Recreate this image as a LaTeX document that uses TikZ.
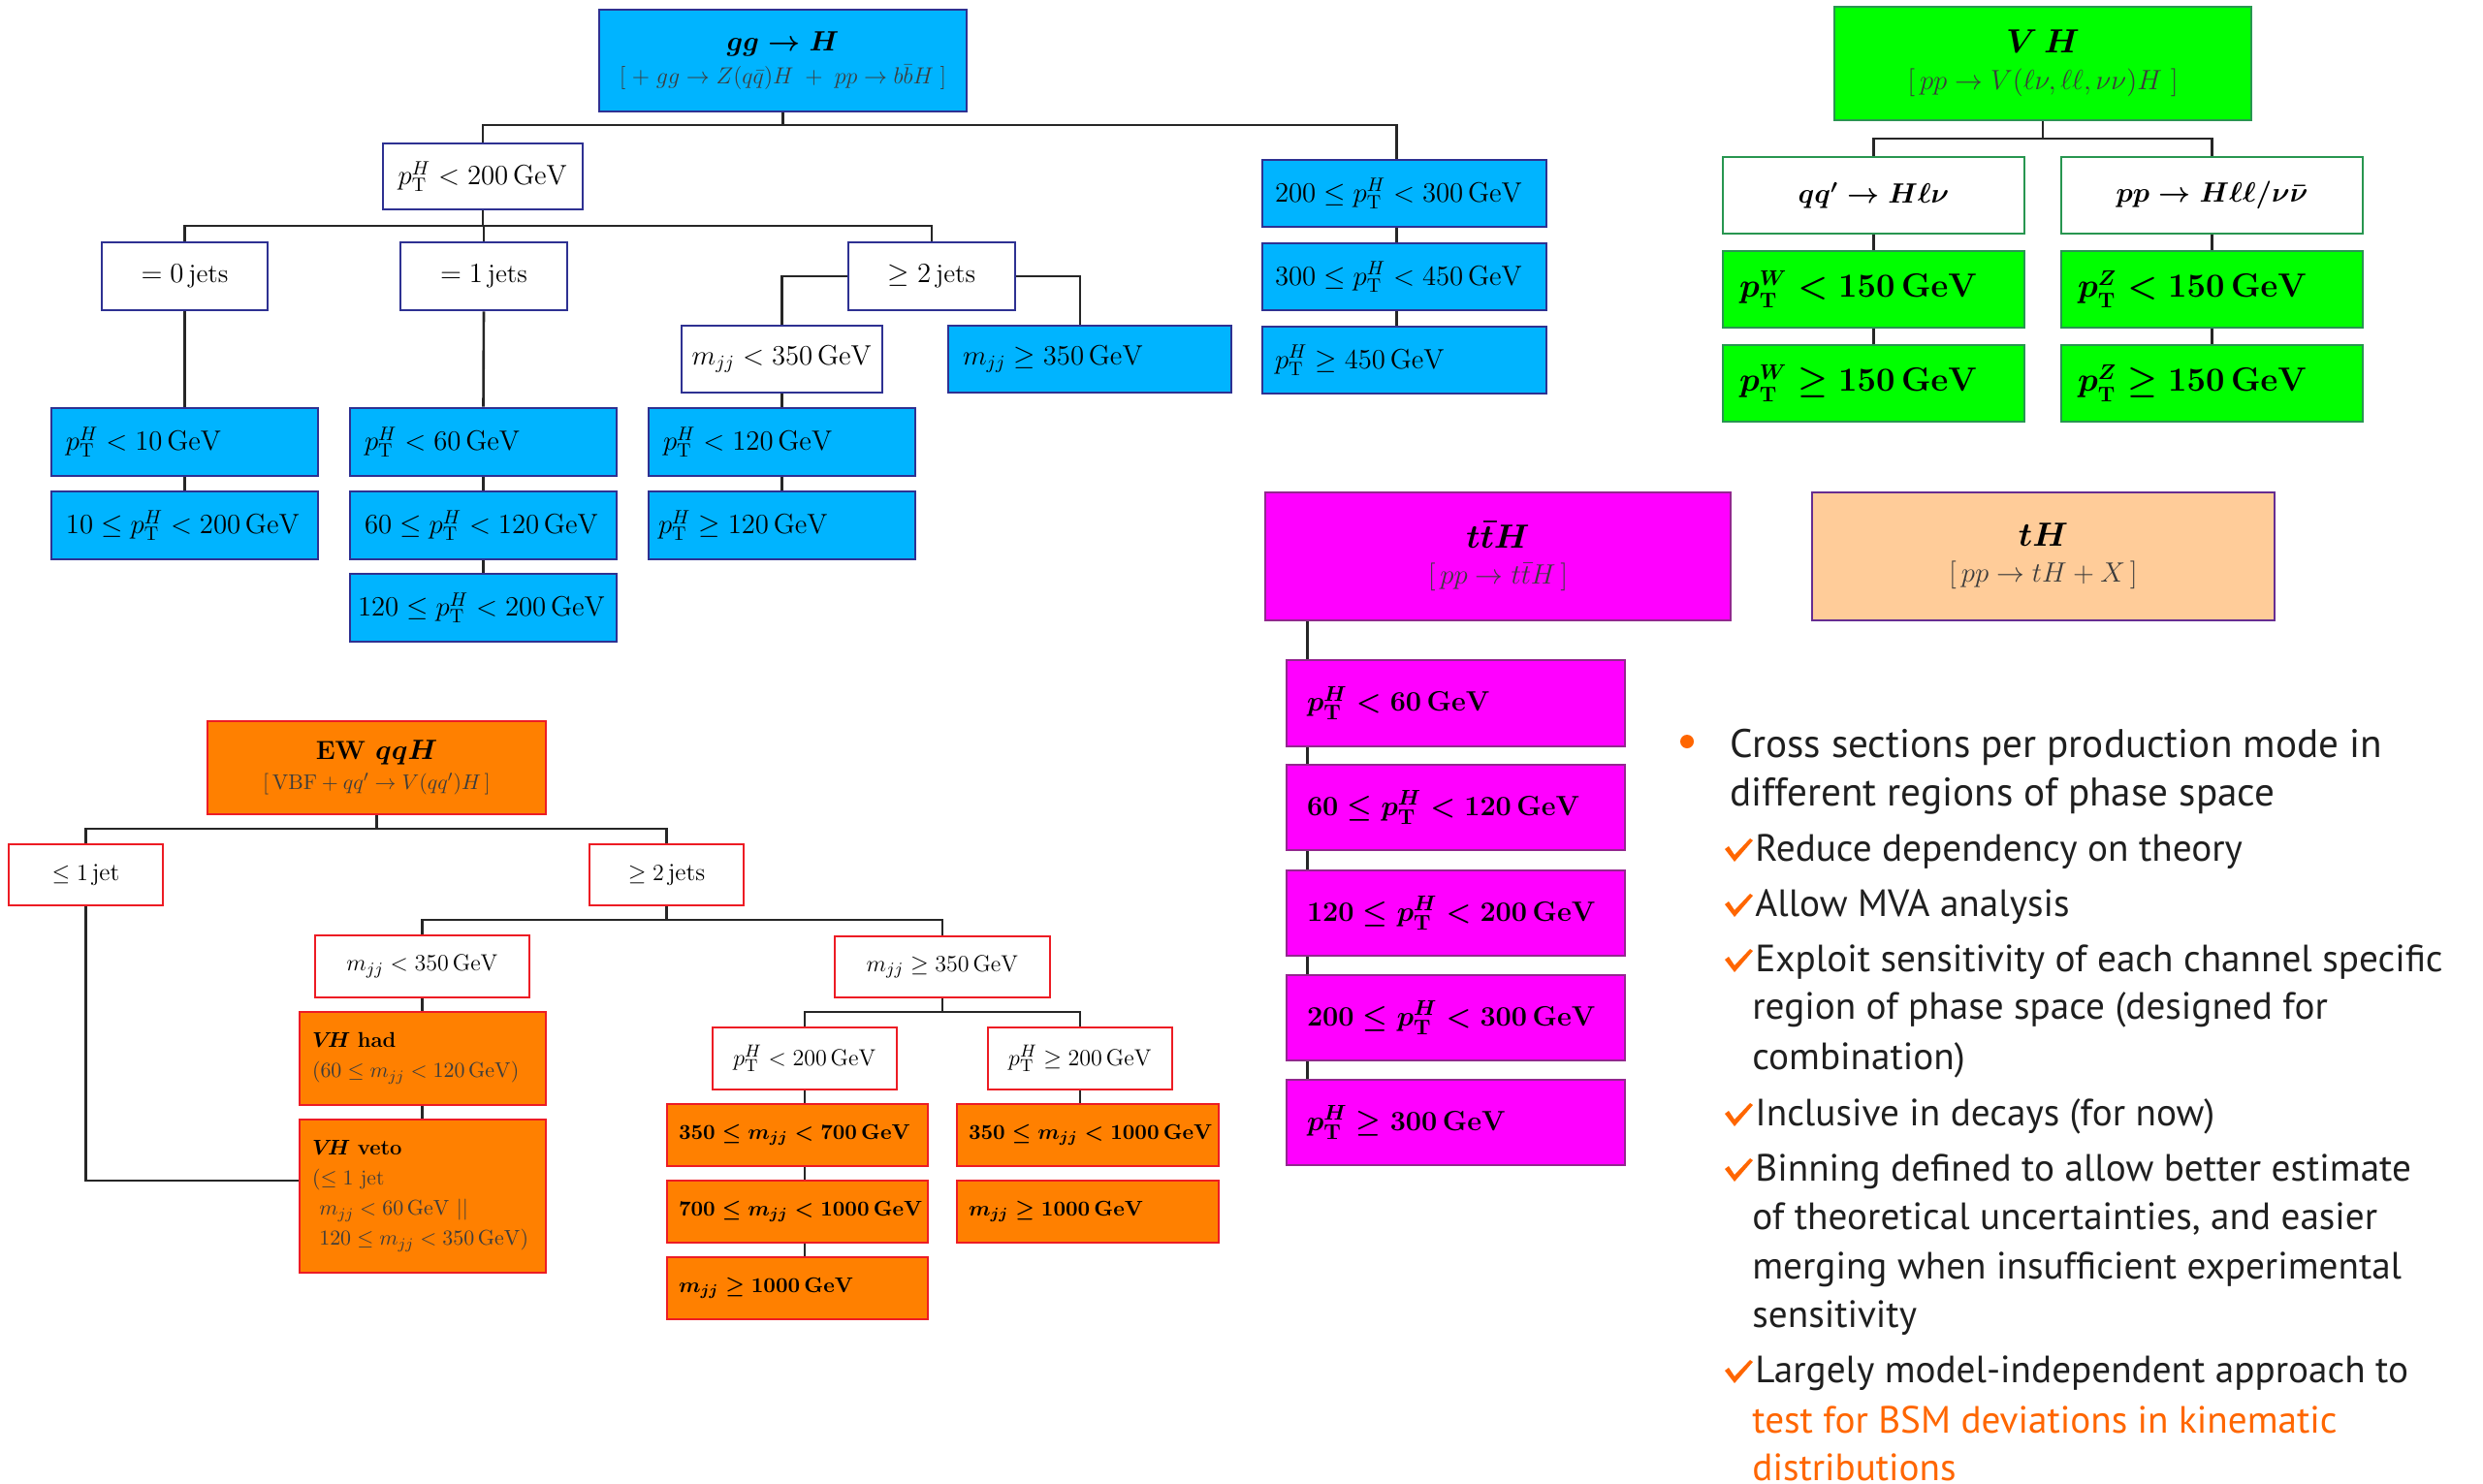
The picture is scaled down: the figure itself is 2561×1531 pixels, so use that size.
\documentclass[tikz,border=0pt]{standalone}
\usepackage[no-math]{fontspec}
\newfontfamily\gill{PT Sans}
\usetikzlibrary{calc}
\definecolor{ggfill}{RGB}{0,180,255}
\definecolor{ggdraw}{RGB}{46,49,146}
\definecolor{vhfill}{RGB}{0,255,0}
\definecolor{vhdraw}{RGB}{40,150,80}
\definecolor{ewfill}{RGB}{255,128,0}
\definecolor{ewdraw}{RGB}{237,28,36}
\definecolor{ttfill}{RGB}{255,0,255}
\definecolor{ttdraw}{RGB}{147,39,143}
\definecolor{thfill}{RGB}{255,204,153}
\definecolor{thdraw}{RGB}{102,45,145}
\definecolor{subgray}{RGB}{60,60,60}
\definecolor{accent}{RGB}{255,102,0}
% centred box
\newcommand\bx[7]{%
  \pgfmathsetmacro\bxw{(#5-#3)*0.5}%
  \pgfmathsetmacro\bxh{(#6-#4)*0.5}%
  \node[#2,minimum width=\bxw pt,minimum height=\bxh pt] (#1) at ({(#3+#5)/2},{(#4+#6)/2}) {#7};}
% left-aligned single-line box
\newcommand\lbx[8][15]{%
  \pgfmathsetmacro\bxt{(#6-#4-2*#1)*0.5}%
  \pgfmathsetmacro\bxi{#1*0.5}%
  \pgfmathsetmacro\bxh{(#7-#5)*0.5}%
  \node[#3,inner xsep=\bxi pt,minimum height=\bxh pt] (#2) at ({(#4+#6)/2},{(#5+#7)/2}) {\makebox[\bxt pt][l]{#8}};}
% left-aligned multi-line box
\newcommand\pbx[8][15]{%
  \pgfmathsetmacro\bxt{(#6-#4-2*#1)*0.5}%
  \pgfmathsetmacro\bxi{#1*0.5}%
  \pgfmathsetmacro\bxh{(#7-#5)*0.5}%
  \node[#3,text width=\bxt pt,inner xsep=\bxi pt,align=left,minimum height=\bxh pt] (#2) at ({(#4+#6)/2},{(#5+#7)/2}) {#8};}
\newcommand\pT{p_{\mathrm{T}}}
\newcommand\GeV{\,\mathrm{GeV}}
% check mark shape (base point = bottom of the tick)
\newcommand\tick[2]{\fill[accent] (#1-9,#2-12) -- (#1-5,#2-15) -- (#1+1,#2-6) -- (#1+17,#2-23) -- (#1+20,#2-21) -- (#1+1,#2+1) -- cycle;}
\begin{document}
\begin{tikzpicture}[x=0.5pt,y=-0.5pt,
  box/.style={draw,line width=1.4pt,inner ysep=0pt,inner xsep=2pt},
  ggc/.style={box,draw=ggdraw,fill=ggfill,font=\fontsize{13.7}{16}\selectfont},
  ggw/.style={box,draw=ggdraw,fill=white,font=\fontsize{13.7}{16}\selectfont},
  vhc/.style={box,draw=vhdraw,fill=vhfill,font=\fontsize{16}{19}\selectfont\boldmath},
  vhw/.style={box,draw=vhdraw,fill=white,font=\fontsize{14}{17}\selectfont\boldmath},
  ewc/.style={box,draw=ewdraw,fill=ewfill,font=\fontsize{11}{15.5}\selectfont\boldmath},
  eww/.style={box,draw=ewdraw,fill=white,font=\fontsize{12.4}{15}\selectfont},
  ttc/.style={box,draw=ttdraw,fill=ttfill,font=\fontsize{15}{18}\selectfont\boldmath},
  thc/.style={box,draw=thdraw,fill=thfill},
  conn/.style={line width=1.3pt,draw=black!85},
  txt/.style={anchor=base west,inner sep=0pt,font=\gill\fontsize{19.6}{23}\selectfont,text=black!88},
  txtA/.style={txt,font=\gill\fontsize{20.6}{24}\selectfont},
  otxt/.style={txt,text=accent},
]
\useasboundingbox (0,0) rectangle (2561,1531);

% ---------------- gg -> H tree ----------------
\bx{gg}{box,draw=ggdraw,fill=ggfill,align=center,font=\fontsize{15.5}{17}\selectfont}{618}{10}{997}{115}%
  {{\boldmath$gg\to H$}\\{\color{subgray}\fontsize{11.6}{17}\selectfont$[\;+\;gg\to Z(q\bar{q})H\;+\;pp\to b\bar{b}H\;]$}}
\bx{pt200}{ggw}{395}{148}{601}{216}{$\pT^{H}<200\GeV$}
\bx{j0}{ggw}{105}{250}{276}{320}{$=0\,$jets}
\bx{j1}{ggw}{413}{250}{585}{320}{$=1\,$jets}
\bx{j2}{ggw}{875}{250}{1047}{320}{$\geq 2\,$jets}
\bx{mlo}{ggw}{703}{336}{910}{405}{$m_{jj}<350\GeV$}
\lbx{mhi}{ggc}{978}{336}{1270}{405}{$m_{jj}\geq 350\GeV$}
\lbx{a1}{ggc}{53}{421}{328}{491}{$\pT^{H}<10\GeV$}
\lbx{a2}{ggc}{53}{507}{328}{577}{$10\leq \pT^{H}<200\GeV$}
\lbx{b1}{ggc}{361}{421}{636}{491}{$\pT^{H}<60\GeV$}
\lbx{b2}{ggc}{361}{507}{636}{577}{$60\leq \pT^{H}<120\GeV$}
\lbx[8]{b3}{ggc}{361}{592}{636}{662}{$120\leq \pT^{H}<200\GeV$}
\lbx{c1}{ggc}{669}{421}{944}{491}{$\pT^{H}<120\GeV$}
\lbx[10]{c2}{ggc}{669}{507}{944}{577}{$\pT^{H}\geq 120\GeV$}
\lbx[13]{h1}{ggc}{1302}{165}{1595}{234}{$200\leq \pT^{H}<300\GeV$}
\lbx[13]{h2}{ggc}{1302}{251}{1595}{320}{$300\leq \pT^{H}<450\GeV$}
\lbx[13]{h3}{ggc}{1302}{337}{1595}{406}{$\pT^{H}\geq 450\GeV$}

\coordinate (ggbus) at (0,129);
\coordinate (ptbus) at (0,233);
\draw[conn] (gg.south) -- (gg.south |- ggbus) -| (pt200.north);
\draw[conn] (gg.south |- ggbus) -| ([xshift=-4pt]h1.north);
\draw[conn] (pt200.south) -- (pt200.south |- ptbus) -| (j0.north);
\draw[conn] (pt200.south |- ptbus) -| (j1.north);
\draw[conn] (pt200.south |- ptbus) -| (j2.north);
\draw[conn] (j2.west) -| (mlo.north);
\draw[conn] (j2.east) -| ([xshift=-5pt]mhi.north);
\draw[conn] (j0.south) -- (a1.north);
\draw[conn] (a1.south) -- (a2.north);
\draw[conn] (j1.south) -- (b1.north);
\draw[conn] (b1.south) -- (b2.north);
\draw[conn] (b2.south) -- (b3.north);
\draw[conn] (mlo.south) -- (c1.north);
\draw[conn] (c1.south) -- (c2.north);
\draw[conn] ([xshift=-4pt]h1.south) -- ([xshift=-4pt]h2.north);
\draw[conn] ([xshift=-4pt]h2.south) -- ([xshift=-4pt]h3.north);

% ---------------- VH tree ----------------
\bx{vh}{box,draw=vhdraw,fill=vhfill,align=center,font=\fontsize{17}{19}\selectfont}{1892}{7}{2322}{124}%
  {{\boldmath$V\,H$}\\{\color{subgray}\fontsize{13.7}{19}\selectfont$[\,pp\to V(\ell\nu,\ell\ell,\nu\nu)H\ ]$}}
\bx{qq}{vhw}{1777}{162}{2088}{241}{$qq'\to H\ell\nu$}
\bx{ppl}{vhw}{2126}{162}{2437}{241}{$pp\to H\ell\ell/\nu\bar{\nu}$}
\lbx[17]{w1}{vhc}{1777}{259}{2088}{338}{$\pT^{W}<150\GeV$}
\lbx[17]{w2}{vhc}{1777}{356}{2088}{435}{$\pT^{W}\geq 150\GeV$}
\lbx[17]{z1}{vhc}{2126}{259}{2437}{338}{$\pT^{Z}<150\GeV$}
\lbx[17]{z2}{vhc}{2126}{356}{2437}{435}{$\pT^{Z}\geq 150\GeV$}
\coordinate (vhbus) at (0,143);
\draw[conn] (vh.south) -- (vh.south |- vhbus) -| (qq.north);
\draw[conn] (vh.south |- vhbus) -| (ppl.north);
\draw[conn] (qq.south) -- (w1.north);
\draw[conn] (w1.south) -- (w2.north);
\draw[conn] (ppl.south) -- (z1.north);
\draw[conn] (z1.south) -- (z2.north);

% ---------------- ttH and tH ----------------
\bx{tth}{box,draw=ttdraw,fill=ttfill,align=center,font=\fontsize{17.5}{18.5}\selectfont}{1305}{508}{1785}{640}%
  {{\boldmath$t\bar{t}H$}\\{\color{subgray}\fontsize{15.5}{18.5}\selectfont$[\,pp\to t\bar{t}H\,]$}}
\bx{th}{thc,align=center,font=\fontsize{16.5}{18.5}\selectfont}{1869}{508}{2346}{640}%
  {{\boldmath$tH$}\\{\color{subgray}\fontsize{15.5}{18.5}\selectfont$[\,pp\to tH+X\,]$}}
\lbx[21]{t1}{ttc}{1327}{681}{1676}{770}{$\pT^{H}<60\GeV$}
\lbx[21]{t2}{ttc}{1327}{789}{1676}{877}{$60\leq \pT^{H}<120\GeV$}
\lbx[21]{t3}{ttc}{1327}{898}{1676}{986}{$120\leq \pT^{H}<200\GeV$}
\lbx[21]{t4}{ttc}{1327}{1006}{1676}{1094}{$200\leq \pT^{H}<300\GeV$}
\lbx[21]{t5}{ttc}{1327}{1114}{1676}{1202}{$\pT^{H}\geq 300\GeV$}
\coordinate (tthx) at ($(t1.north west)+(23,0)$);
\draw[conn] (tth.south -| tthx) -- (t1.north -| tthx);
\draw[conn] (t1.south -| tthx) -- (t2.north -| tthx);
\draw[conn] (t2.south -| tthx) -- (t3.north -| tthx);
\draw[conn] (t3.south -| tthx) -- (t4.north -| tthx);
\draw[conn] (t4.south -| tthx) -- (t5.north -| tthx);

% ---------------- EW qqH tree ----------------
\bx{ew}{box,draw=ewdraw,fill=ewfill,align=center,font=\fontsize{13.5}{15.5}\selectfont}{214}{744}{563}{840}%
  {{\bfseries EW \boldmath$qqH$}\\{\color{subgray}\fontsize{10.9}{15.5}\selectfont$[\,\mathrm{VBF}+qq'\to V(qq')H\,]$}}
\bx{le1}{eww,font=\fontsize{12.8}{15}\selectfont}{9}{871}{168}{934}{$\leq 1\,$jet}
\bx{ge2}{eww,font=\fontsize{12.8}{15}\selectfont}{608}{871}{767}{934}{$\geq 2\,$jets}
\bx{mlo2}{eww}{325}{965}{546}{1029}{$m_{jj}<350\GeV$}
\bx{mhi2}{eww}{861}{966}{1083}{1029}{$m_{jj}\geq 350\GeV$}
\bx{pa}{eww}{735}{1060}{925}{1124}{$\pT^{H}<200\GeV$}
\bx{pb}{eww}{1019}{1060}{1209}{1124}{$\pT^{H}\geq 200\GeV$}
\pbx[13]{had}{ewc}{309}{1044}{563}{1140}{$V\!H$ \textbf{had}\\{\unboldmath\color{subgray}$(60\leq m_{jj}<120\GeV)$}}
\pbx[13]{veto}{ewc}{309}{1155}{563}{1313}{$V\!H$ \textbf{veto}\\{\unboldmath\color{subgray}$(\leq 1$ jet}\\{\unboldmath\color{subgray}\ $m_{jj}<60\GeV\ ||$}\\{\unboldmath\color{subgray}\ $120\leq m_{jj}<350\GeV)$}}
\lbx[12]{o1}{ewc}{688}{1139}{957}{1203}{$350\leq m_{jj}<700\GeV$}
\lbx[12]{o2}{ewc}{688}{1218}{957}{1282}{$700\leq m_{jj}<1000\GeV$}
\lbx[12]{o3}{ewc}{688}{1297}{957}{1361}{$m_{jj}\geq 1000\GeV$}
\lbx[12]{r1}{ewc}{987}{1139}{1257}{1203}{$350\leq m_{jj}<1000\GeV$}
\lbx[12]{r2}{ewc}{987}{1218}{1257}{1282}{$m_{jj}\geq 1000\GeV$}
\coordinate (ewbus) at (0,855);
\coordinate (gebus) at (0,949);
\coordinate (mhbus) at (0,1044);
\draw[conn] (ew.south) -- (ew.south |- ewbus) -| (le1.north);
\draw[conn] (ew.south |- ewbus) -| (ge2.north);
\draw[conn] (ge2.south) -- (ge2.south |- gebus) -| (mlo2.north);
\draw[conn] (ge2.south |- gebus) -| (mhi2.north);
\draw[conn] (mhi2.south) -- (mhi2.south |- mhbus) -| (pa.north);
\draw[conn] (mhi2.south |- mhbus) -| (pb.north);
\draw[conn] (mlo2.south) -- (mlo2.south |- had.north);
\draw[conn] (had.south -| mlo2.south) -- (veto.north -| mlo2.south);
\draw[conn] (le1.south) |- ([yshift=8pt]veto.west);
\draw[conn] (pa.south) -- (pa.south |- o1.north);
\draw[conn] (o1.south -| pa.south) -- (o2.north -| pa.south);
\draw[conn] (o2.south -| pa.south) -- (o3.north -| pa.south);
\draw[conn] (pb.south) -- (pb.south |- r1.north);

% ---------------- bullet text ----------------
\node[circle,fill=accent,minimum size=7pt,inner sep=0pt] (dot) at (1740,765) {};
\node[txtA] (l1) at (1784,781) {Cross sections per production mode in};
\node[txtA] (l2) at (1784,831) {different regions of phase space};
\tick{1788}{888}
\node[txt] (l3) at (1810,888) {Reduce dependency on theory};
\tick{1788}{945}
\node[txt] (l4) at (1810,945) {Allow MVA analysis};
\tick{1788}{1002}
\node[txt] (l5) at (1810,1002) {Exploit sensitivity of each channel specific};
\node[txt] (l6) at (1807,1051) {region of phase space (designed for};
\node[txt] (l7) at (1807,1103) {combination)};
\tick{1788}{1161}
\node[txt] (l8) at (1810,1161) {Inclusive in decays (for now)};
\tick{1788}{1218}
\node[txt] (l9) at (1810,1218) {Binning defined to allow better estimate};
\node[txt] (l10) at (1807,1268) {of theoretical uncertainties, and easier};
\node[txt] (l11) at (1807,1319) {merging when insufficient experimental};
\node[txt] (l12) at (1807,1369) {sensitivity};
\tick{1788}{1426}
\node[txt] (l13) at (1810,1426) {Largely model-independent approach to};
\node[otxt] (l14) at (1807,1478) {test for BSM deviations in kinematic};
\node[otxt] (l15) at (1807,1527) {distributions};
\end{tikzpicture}
\end{document}
